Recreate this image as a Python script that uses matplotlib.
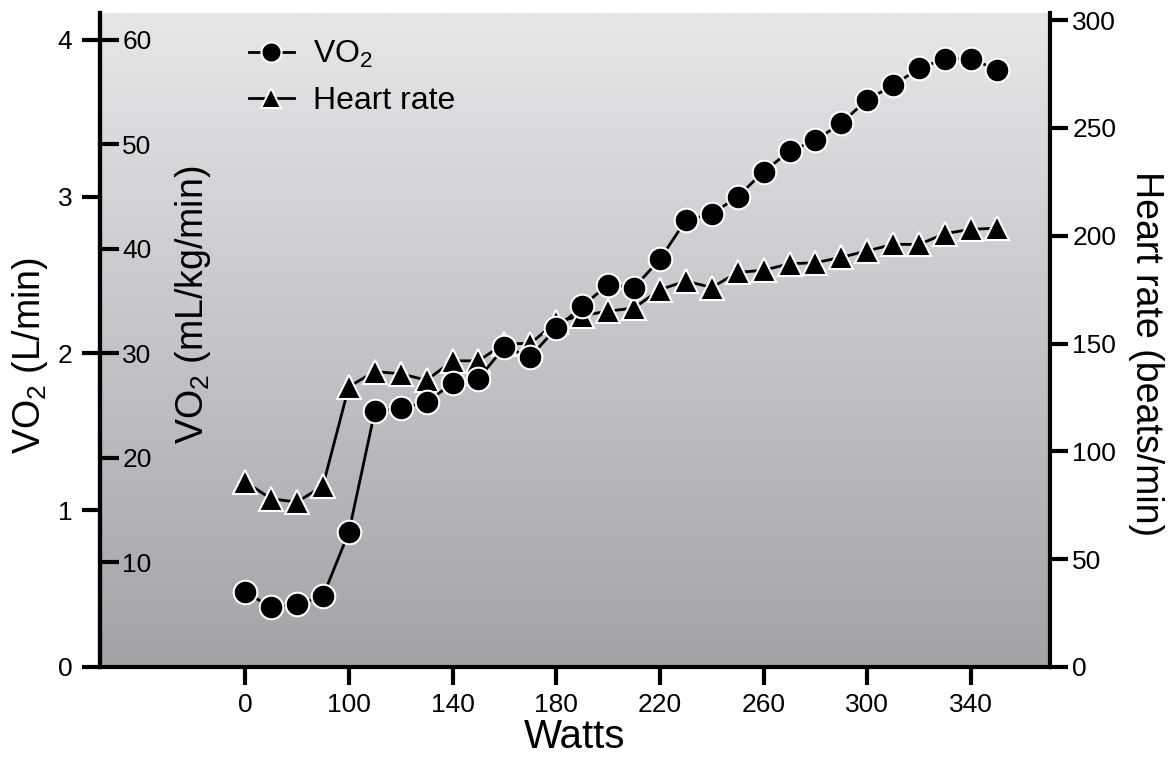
import numpy as np
import matplotlib
matplotlib.use('Agg')
from matplotlib import pyplot as plt
from matplotlib.lines import Line2D

plt.rcParams['font.family'] = ['Liberation Sans', 'DejaVu Sans']

# exercise test data (rest value first, then the ramp)
watts = [0, 70, 80, 90, 100, 110, 120, 130, 140, 150, 160, 170, 180, 190, 200,
         210, 220, 230, 240, 250, 260, 270, 280, 290, 300, 310, 320, 330, 340, 350]
vo2 = [0.48, 0.38, 0.40, 0.45, 0.86, 1.63, 1.65, 1.69, 1.81, 1.84, 2.04, 1.98, 2.16, 2.30, 2.44,
       2.42, 2.60, 2.85, 2.89, 3.00, 3.16, 3.29, 3.36, 3.47, 3.62, 3.71, 3.82, 3.88, 3.88, 3.81]
heart_rate = [86, 78, 76.5, 84, 130, 137, 136, 133, 142, 142, 150, 150, 160, 163, 165,
              166.5, 175, 179, 176, 183, 184, 187, 187.5, 190, 193, 196, 196, 201, 203, 203.5]

xtick_vals = [0, 100, 140, 180, 220, 260, 300, 340]
vo2_ticks = [0, 1, 2, 3, 4]
vo2_kg_ticks = [10, 20, 30, 40, 50, 60]
hr_ticks = [0, 50, 100, 150, 200, 250, 300]

# the axis is broken: the rest point (0 W) is drawn where 60 W would be
rest_pos = 60
xpos = [rest_pos if w == 0 else w for w in watts]
xtick_pos = [rest_pos if w == 0 else w for w in xtick_vals]

fig = plt.figure(figsize=(11.68, 7.57), dpi=100)
rect = [0.0856, 0.1189, 0.8134, 0.8639]

# gradient background
bg = fig.add_axes(rect, zorder=0)
grad = np.linspace(0, 1, 256).reshape(-1, 1)
bg.imshow(grad, aspect='auto', extent=[0, 1, 0, 1], origin='upper',
          cmap=matplotlib.colors.LinearSegmentedColormap.from_list('g', ['#e6e7e9', '#a1a3a7']))
bg.axis('off')

ax_hr = fig.add_axes(rect, zorder=1)
ax_hr.patch.set_visible(False)
ax = fig.add_axes(rect, zorder=2, sharex=ax_hr)
ax.patch.set_visible(False)

mk = dict(color='black', lw=2.0, markersize=17, markeredgecolor='white', markeredgewidth=1.5)
ax_hr.plot(xpos, heart_rate, marker='^', **mk)
ax.plot(xpos, vo2, marker='o', **mk)

ax.set_xlim(4, 370.5)
ax.set_ylim(0, 4.172)
ax_hr.set_ylim(0, 303.3)

for a in (ax, ax_hr):
    for s in a.spines.values():
        s.set_linewidth(3)
    a.spines['top'].set_visible(False)

ax.spines['right'].set_visible(False)
ax_hr.spines['left'].set_visible(False)
ax_hr.spines['bottom'].set_visible(False)
ax_hr.yaxis.tick_right()
ax_hr.yaxis.set_label_position('right')
ax_hr.tick_params(axis='x', bottom=False, labelbottom=False)

ax.set_xticks(xtick_pos)
ax.set_xticklabels([str(v) for v in xtick_vals])
ax.set_yticks(vo2_ticks)
ax_hr.set_yticks(hr_ticks)

ax.tick_params(axis='both', labelsize=19, length=13, width=3, direction='out')
ax.tick_params(axis='y', pad=7)
ax.tick_params(axis='x', pad=6)
ax_hr.tick_params(axis='y', labelsize=19, length=13, width=3, pad=3)

# inner mL/kg/min scale on the left spine
sec = ax.secondary_yaxis(0.0, functions=(lambda x: x * 15, lambda x: x / 15))
sec.set_alignment('right')
sec.set_yticks(vo2_kg_ticks)
sec.tick_params(labelsize=19, length=14, width=3, pad=2)
sec.spines['right'].set_linewidth(3)

ax.set_ylabel('VO$_\\mathregular{2}$ (L/min)', fontsize=27)
ax.yaxis.set_label_coords(-0.0526, 0.477)
sec.set_ylabel('VO$_\\mathregular{2}$ (mL/kg/min)', fontsize=27)
sec.yaxis.set_label_coords(0.0768, 0.5535, transform=ax.transAxes)
ax_hr.set_ylabel('Heart rate (beats/min)', fontsize=27, rotation=270, va='bottom')
ax_hr.yaxis.set_label_coords(1.082, 0.48)
ax.set_xlabel('Watts', fontsize=29, va='top')
ax.xaxis.set_label_coords(0.5, -0.078)

handles = [Line2D([], [], marker='o', **mk), Line2D([], [], marker='^', **mk)]
ax.legend(handles, ['VO$_\\mathregular{2}$', 'Heart rate'], loc='upper left',
          bbox_to_anchor=(0.14, 0.985), frameon=False, fontsize=23,
          handlelength=1.4, handletextpad=0.6, labelspacing=0.5, markerscale=0.85,
          borderpad=0)

plt.savefig('out.png')
